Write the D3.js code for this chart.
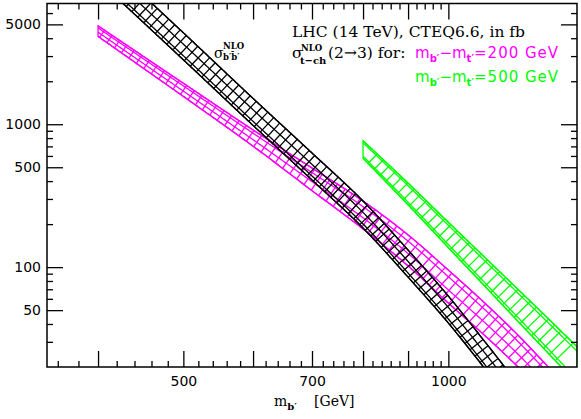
<!DOCTYPE html>
<html>
<head>
<meta charset="utf-8">
<script src="https://cdn.jsdelivr.net/npm/d3@7"></script>
<style>
  body { margin: 0; background: #fff; }
  svg { display: block; }
  .axis text { font-family: "DejaVu Sans", sans-serif; font-size: 14px; fill: #000; }
  .axis line { stroke: #000; stroke-width: 1.3; }
  .axis path { display: none; }
</style>
</head>
<body>
<svg id="chart" width="581" height="419"></svg>
<script>
// b' b'bar pair production (NLO), upper / lower edge of the band, in fb
var massPair = [350, 400, 500, 600, 700, 800, 900, 1000, 1100, 1200],
    pairHi = [33160, 15690, 4366, 1516, 629, 290, 131.6, 62.7, 30.1, 15.2],
    pairLo = [21450, 10150, 2825, 981, 407, 187.6, 85.1, 40.6, 19.5, 9.8];

// t-channel 2->3, m_b' - m_t' = 200 GeV
var mass200 = [400, 450, 500, 600, 700, 800, 900, 1000, 1100, 1200, 1300, 1400],
    tch200Hi = [4882, 2994, 1936, 912, 494, 290, 168, 95.3, 56, 33.4, 19.9, 12.5],
    tch200Lo = [4120, 2472, 1566, 702, 343, 185, 102, 56, 33.2, 20, 12.1, 7.8];

// t-channel 2->3, m_b' - m_t' = 500 GeV
var mass500 = [800, 900, 1000, 1100, 1200, 1300, 1400],
    tch500Hi = [767, 387, 206, 117, 69.8, 43.3, 27.7],
    tch500Lo = [578, 273, 137, 73.6, 41.7, 24.8, 15.3];

var xTickLabels = [500, 700, 1000],
    yTickLabels = [50, 100, 500, 1000, 5000];

var margin = {top: 3.5, right: 4, bottom: 52, left: 47},
    width = 581 - margin.left - margin.right,
    height = 419 - margin.top - margin.bottom;

var x = d3.scaleLog().domain([350, 1400]).range([0, width]);
var y = d3.scaleLog().domain([20, 7000]).range([height, 0]);

var svg = d3.select("#chart");
var plot = svg.append("g")
    .attr("transform", "translate(" + margin.left + "," + margin.top + ")");

plot.append("clipPath").attr("id", "clip")
  .append("rect").attr("width", width).attr("height", height);

var bands = plot.append("g").attr("clip-path", "url(#clip)");

// Smooth cubic through the points (pixel space), linear beyond the ends.
function smooth(xs, ys) {
  var n = xs.length, d = [], m = [], i;
  for (i = 0; i < n - 1; i++) d[i] = (ys[i + 1] - ys[i]) / (xs[i + 1] - xs[i]);
  m[0] = d[0]; m[n - 1] = d[n - 2];
  for (i = 1; i < n - 1; i++) m[i] = (d[i - 1] + d[i]) / 2;
  return function(px) {
    if (px <= xs[0]) return ys[0] + m[0] * (px - xs[0]);
    if (px >= xs[n - 1]) return ys[n - 1] + m[n - 1] * (px - xs[n - 1]);
    var k = Math.min(n - 2, d3.bisectRight(xs, px) - 1),
        h = xs[k + 1] - xs[k], t = (px - xs[k]) / h,
        t2 = t * t, t3 = t2 * t;
    return (2 * t3 - 3 * t2 + 1) * ys[k] + (t3 - 2 * t2 + t) * h * m[k]
         + (-2 * t3 + 3 * t2) * ys[k + 1] + (t3 - t2) * h * m[k + 1];
  };
}

// A hatched band: outline, lines along the band, rungs across it.
function drawBand(mass, hi, lo, color, fracs, step) {
  var xs = mass.map(function(d) { return x(d); });
  var fU = smooth(xs, hi.map(function(d) { return y(d); }));
  var fL = smooth(xs, lo.map(function(d) { return y(d); }));
  var fC = function(px) { return (fU(px) + fL(px)) / 2; };
  var x0 = xs[0], x1 = xs[xs.length - 1];

  var g = bands.append("g")
      .attr("stroke", color)
      .attr("fill", "none")
      .attr("stroke-width", 1.3);

  var pts = d3.range(x0, x1, 1).concat([x1]);
  g.append("path")
      .datum(pts)
      .attr("d", d3.area()
        .x(function(px) { return px; })
        .y0(function(px) { return fL(px); })
        .y1(function(px) { return fU(px); }));

  fracs.forEach(function(t) {
    g.append("path")
        .attr("d", d3.line()(pts.map(function(px) {
          return [px, fU(px) + t * (fL(px) - fU(px))];
        })));
  });

  var acc = step / 2, prevX = x0, prevY = fC(x0);
  for (var px = x0 + 0.5; px <= x1; px += 0.5) {
    var py = fC(px);
    acc += Math.hypot(px - prevX, py - prevY);
    prevX = px; prevY = py;
    if (acc < step) continue;
    acc -= step;
    var m = (fC(px + 1) - fC(px - 1)) / 2,
        kU = (fU(px + 1) - fU(px - 1)) / 2,
        kL = (fL(px + 1) - fL(px - 1)) / 2;
    var sU = (py - fU(px)) / (1 + kU * m),
        sL = (py - fL(px)) / (1 + kL * m);
    var ax = px + m * sU, ay = py - sU,
        bx = px + m * sL, by = py - sL;
    if (Math.min(ax, bx) < x0 || Math.max(ax, bx) > x1) continue;
    g.append("line")
        .attr("x1", ax).attr("y1", ay)
        .attr("x2", bx).attr("y2", by);
  }
}

drawBand(mass200, tch200Hi, tch200Lo, "#ff00ff", [0, 0.2, 0.6, 1], 9);
drawBand(massPair, pairHi, pairLo, "#000000", [0, 0.42, 0.85, 1], 8);
drawBand(mass500, tch500Hi, tch500Lo, "#00ff00", [0, 0.12, 0.88, 1], 8.5);

// axes: long ticks for the labelled values, short ones in between, all inward
var majorX = d3.range(400, 1001, 100),
    minorX = d3.range(360, 1001, 20).filter(function(d) { return d % 100; }),
    minorY = [30, 40, 60, 70, 80, 90, 200, 300, 400, 600, 700, 800, 900,
              2000, 3000, 4000, 6000];

function xLabel(d) { return xTickLabels.indexOf(d) >= 0 ? d : ""; }

plot.append("g").attr("class", "axis")
    .attr("transform", "translate(0," + height + ")")
    .call(d3.axisBottom(x).tickValues(majorX).tickSize(-16).tickPadding(9).tickFormat(xLabel));
plot.append("g").attr("class", "axis")
    .attr("transform", "translate(0," + height + ")")
    .call(d3.axisBottom(x).tickValues(minorX).tickSize(-6).tickFormat(""));
plot.append("g").attr("class", "axis")
    .call(d3.axisTop(x).tickValues(majorX).tickSize(-16).tickFormat(""));
plot.append("g").attr("class", "axis")
    .call(d3.axisTop(x).tickValues(minorX).tickSize(-6).tickFormat(""));

plot.append("g").attr("class", "axis")
    .call(d3.axisLeft(y).tickValues(yTickLabels).tickSize(-16).tickPadding(6).tickFormat(d3.format("d")));
plot.append("g").attr("class", "axis")
    .call(d3.axisLeft(y).tickValues(minorY).tickSize(-6).tickFormat(""));
plot.append("g").attr("class", "axis")
    .attr("transform", "translate(" + width + ",0)")
    .call(d3.axisRight(y).tickValues(yTickLabels).tickSize(-16).tickFormat(""));
plot.append("g").attr("class", "axis")
    .attr("transform", "translate(" + width + ",0)")
    .call(d3.axisRight(y).tickValues(minorY).tickSize(-6).tickFormat(""));

plot.append("rect")
    .attr("width", width)
    .attr("height", height)
    .attr("fill", "none")
    .attr("stroke", "#000")
    .attr("stroke-width", 1.5);

// x axis title
var serif = "'DejaVu Serif', serif";
var xt = svg.append("text")
    .attr("x", 274).attr("y", 406)
    .style("font-family", serif).style("font-size", "14px");
xt.append("tspan").text("m");
xt.append("tspan").attr("dy", 4).style("font-size", "10px").style("font-weight", "bold").text("b′");
xt.append("tspan").attr("x", 314).attr("dy", -4).text("[GeV]");

// legend text
svg.append("text")
    .attr("x", 292).attr("y", 37)
    .style("font-family", serif).style("font-size", "15.5px")
    .text("LHC (14 TeV), CTEQ6.6, in fb");

svg.append("text")
    .attr("x", 292).attr("y", 58)
    .style("font-family", serif).style("font-size", "15.5px")
    .text("σ");
svg.append("text")
    .attr("x", 301).attr("y", 51)
    .style("font-family", serif).style("font-size", "8.5px").style("font-weight", "bold")
    .text("NLO");
svg.append("text")
    .attr("x", 300).attr("y", 64)
    .style("font-family", serif).style("font-size", "10px").style("font-weight", "bold")
    .text("t−ch");
svg.append("text")
    .attr("x", 328).attr("y", 58)
    .style("font-family", serif).style("font-size", "15.5px")
    .text("(2→3) for:");

function massDiff(yPos, value, color) {
  var t = svg.append("text")
      .attr("x", 415).attr("y", yPos)
      .attr("fill", color)
      .style("font-family", "'DejaVu Sans', sans-serif").style("font-size", "15px");
  t.append("tspan").text("m");
  t.append("tspan").attr("dy", 4).style("font-size", "10px").style("font-weight", "bold").text("b′");
  t.append("tspan").attr("dy", -4).text("−m");
  t.append("tspan").attr("dy", 4).style("font-size", "10px").style("font-weight", "bold").text("t′");
  t.append("tspan").attr("dy", -4).style("letter-spacing", "1px").text("=" + value + " GeV");
}
massDiff(58, 200, "#ff00ff");
massDiff(82, 500, "#00ff00");

// label on the pair-production band
svg.append("text")
    .attr("x", 214).attr("y", 58)
    .style("font-family", serif).style("font-size", "14px")
    .text("σ");
svg.append("text")
    .attr("x", 223).attr("y", 49)
    .style("font-family", serif).style("font-size", "8.5px").style("font-weight", "bold")
    .text("NLO");
svg.append("text")
    .attr("x", 223).attr("y", 60)
    .style("font-family", serif).style("font-size", "8.5px").style("font-weight", "bold")
    .text("b′b̄′");
</script>
</body>
</html>
